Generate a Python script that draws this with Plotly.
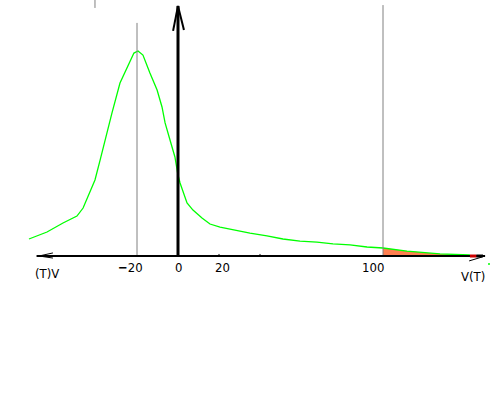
import plotly.graph_objects as go

# Curve (V(T) value, density height in arbitrary units; peak = 100)
curve_v = [-72.7, -63.9, -56.1, -49.3, -46.3, -43.9, -40.5, -38.0, -36.6, -32.2,
           -28.3, -25.9, -23.4, -21.5, -19.5, -17.1, -13.7, -10.2, -7.8, -6.3,
           -3.9, -1.5, 0.0, 1.0, 4.4, 7.3, 11.7, 15.6, 20.5, 26.8,
           35.1, 43.4, 51.2, 59.5, 67.8, 75.6, 83.9, 92.2, 100.0, 111.7,
           121.5, 127.8, 142.4]
curve_y = [8.3, 11.7, 16.1, 19.5, 23.4, 28.8, 37.1, 46.8, 52.7, 69.8,
           84.4, 89.8, 94.6, 99.0, 100.0, 98.0, 89.3, 81.0, 72.7, 64.9,
           56.6, 48.3, 39.5, 35.6, 25.9, 22.4, 18.5, 15.6, 14.1, 12.7,
           11.2, 9.8, 8.3, 7.3, 6.8, 5.9, 5.4, 4.4, 3.9, 2.4,
           1.5, 1.0, 0.5]

tail_start = 100.0          # shaded tail begins at V(T) = 100
tick_labels = ["<b>−</b>20", "0", "20", "100"]
tick_label_x = [-23.4, 0.0, 21.5, 95.0]

x_range = [-86.83, 157.07]
y_range = [-70.24, 124.88]

fig = go.Figure()

# shaded tail
tail_v = [v for v in curve_v if v >= tail_start]
tail_y = [y for v, y in zip(curve_v, curve_y) if v >= tail_start]
fig.add_trace(go.Scatter(x=[tail_start] + tail_v + [tail_v[-1]],
                         y=[0] + tail_y + [0], mode="lines",
                         line=dict(width=0, color="#ff7f50"),
                         fill="toself", fillcolor="#ff7f50",
                         hoverinfo="skip", showlegend=False))

shapes = []
def line(x0, y0, x1, y1, color="black", width=1):
    shapes.append(dict(type="line", x0=x0, y0=y0, x1=x1, y1=y1,
                       xref="x", yref="y", line=dict(color=color, width=width)))

# gray vertical guides
line(-20, 0, -20, 113.7, "#808080", 1)
line(100, 0, 100, 122.4, "#808080", 1)
line(-40.5, 121.0, -40.5, 124.9, "#808080", 1)

# horizontal axis with arrows
line(-69.0, 0, 149.8, 0, "black", 2)
line(-67.8, 0, -61.0, 1.5, "black", 1)
line(-67.8, 0, -61.0, -1.0, "black", 1)
line(142.0, -2.4, 148.3, -0.5, "black", 1)
line(145.5, 0, 148.8, 0, "black", 3)
line(142.4, 0, 145.5, 0, "#cc0000", 3)

# small ticks
for tv in [20, 40]:
    line(tv, 0, tv, 1.0, "black", 1)

# vertical axis with arrow
line(0, 0, 0, 122.0, "black", 3)
line(0, 122.0, -2.4, 109.8, "black", 2)
line(0, 122.0, 2.9, 110.2, "black", 2)

fig.add_trace(go.Scatter(x=curve_v, y=curve_y, mode="lines",
                         line=dict(color="#00ff00", width=1.3),
                         hoverinfo="skip", showlegend=False))
fig.add_trace(go.Scatter(x=[151.7], y=[-3.9], mode="markers",
                         marker=dict(color="#00ff00", size=2),
                         hoverinfo="skip", showlegend=False))

font = dict(family="Liberation Sans Narrow, DejaVu Sans Condensed, Liberation Sans",
            size=13, color="black")
annotations = []
for lab, lx in zip(tick_labels, tick_label_x):
    annotations.append(dict(x=lx, y=-5.5, text=lab, showarrow=False,
                            xref="x", yref="y", font=font))
annotations.append(dict(x=-63.9, y=-8.3, text="(T)V", showarrow=False,
                        xref="x", yref="y", font=font))
annotations.append(dict(x=143.9, y=-9.8, text="V(T)", showarrow=False,
                        xref="x", yref="y", font=font))

fig.update_layout(
    width=500, height=400,
    margin=dict(l=0, r=0, t=0, b=0),
    paper_bgcolor="white", plot_bgcolor="white",
    shapes=shapes, annotations=annotations,
    xaxis=dict(range=x_range, visible=False, fixedrange=True),
    yaxis=dict(range=y_range, visible=False, fixedrange=True),
    showlegend=False,
)

fig.write_html("out.html", config={"displayModeBar": False},
               post_script="document.body.style.margin='0';document.body.style.overflow='hidden';")
